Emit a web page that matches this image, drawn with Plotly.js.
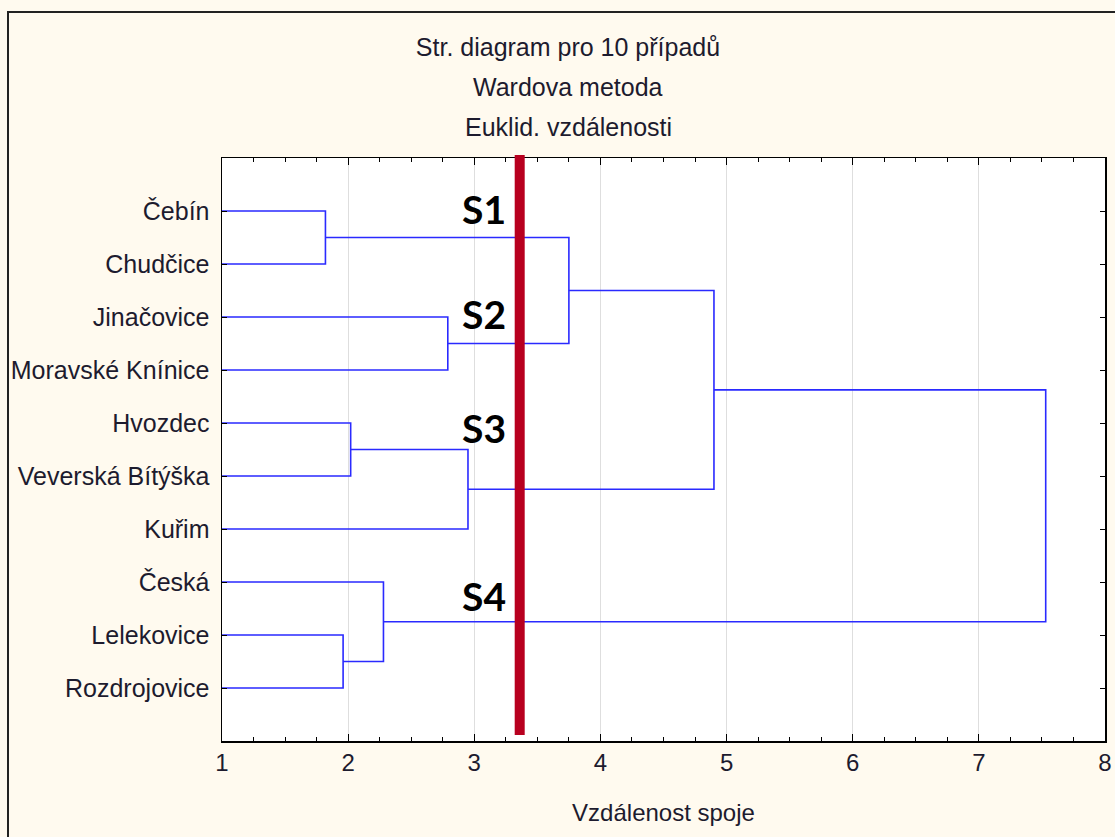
<!DOCTYPE html>
<html>
<head>
<meta charset="utf-8">
<script src="https://cdn.plot.ly/plotly-3.0.1.min.js"></script>
<style>
  html, body { margin: 0; padding: 0; background: #FFFAEF; }
  #chart { width: 1115px; height: 837px; }
</style>
</head>
<body>
<div id="chart"></div>
<script>
// ---- Data ----
const leaves = ["Čebín", "Chudčice", "Jinačovice", "Moravské Knínice", "Hvozdec",
                "Veverská Bítýška", "Kuřim", "Česká", "Lelekovice", "Rozdrojovice"];
// Linkage: each merge joins two clusters (leaf indices 0-9, merged clusters 10+)
const mergeLeft   = [0, 2, 4, 8, 7, 12, 10, 16, 17];
const mergeRight  = [1, 3, 5, 9, 13, 6, 11, 15, 14];
const mergeHeight = [1.82, 2.79, 2.02, 1.96, 2.28, 2.95, 3.75, 4.90, 7.53];
const cutDistance = 3.36;
const clusterLabels = ["S1", "S2", "S3", "S4"];
const clusterLabelY = [0.96, 2.94, 5.09, 8.26];
const xTickVals = [1, 2, 3, 4, 5, 6, 7, 8];
const titleLines = ["Str. diagram pro 10 případů", "Wardova metoda", "Euklid. vzdálenosti"];
const xAxisTitle = "Vzdálenost spoje";

// ---- Build dendrogram segments ----
const minX = 1;
const nodeX = [], nodeY = [];
leaves.forEach((_, i) => { nodeX[i] = minX; nodeY[i] = i + 1; });
const segX = [], segY = [];
mergeLeft.forEach((a, k) => {
  const b = mergeRight[k], h = mergeHeight[k];
  segX.push(nodeX[a], h, h, nodeX[b], null);
  segY.push(nodeY[a], nodeY[a], nodeY[b], nodeY[b], null);
  const id = leaves.length + k;
  nodeX[id] = h;
  nodeY[id] = (nodeY[a] + nodeY[b]) / 2;
});

const font = "Liberation Sans, Arial, sans-serif";
const txtColor = "#1d1b2e";

const traces = [{
  type: "scatter", mode: "lines", x: segX, y: segY,
  line: { color: "#2a2aff", width: 1.6 }, hoverinfo: "skip", showlegend: false
}];

const plotL = 222, plotR = 10, plotT = 158, plotB = 96;
const W = 1115, H = 837;
const pw = W - plotL - plotR, ph = H - plotT - plotB;

const annotations = [];
// title lines 2 and 3
[1, 2].forEach(i => {
  annotations.push({
    text: titleLines[i], xref: "paper", yref: "paper",
    x: (568 - plotL) / pw, y: 1, xanchor: "center", yanchor: "middle",
    yshift: plotT - [47, 87, 127][i], showarrow: false,
    font: { family: font, size: 25, color: txtColor }
  });
});
clusterLabels.forEach((t, i) => {
  annotations.push({
    text: "<b>" + t + "</b>", x: 3.265, y: clusterLabelY[i], xref: "x", yref: "y",
    xanchor: "right", yanchor: "middle", showarrow: false,
    font: { family: "Lato, Open Sans, sans-serif", size: 39, color: "#000" }
  });
});

const layout = {
  width: W, height: H,
  margin: { l: plotL, r: plotR, t: plotT, b: plotB },
  paper_bgcolor: "#FFFAEF", plot_bgcolor: "#FFFFFF",
  showlegend: false,
  title: {
    text: titleLines[0], font: { family: font, size: 25, color: txtColor },
    x: 568 / W, xanchor: "center", xref: "container",
    y: 1 - 47 / H, yanchor: "middle", yref: "container"
  },
  xaxis: {
    range: [1, 8], tickvals: xTickVals, ticks: "inside", ticklen: 7, tickcolor: "#000",
    showline: true, linecolor: "#000", linewidth: 1.5, mirror: "ticks",
    showgrid: true, gridcolor: "#dedede", gridwidth: 1.2, zeroline: false,
    minor: { dtick: 0.25, ticks: "inside", ticklen: 4, tickcolor: "#000", showgrid: false },
    tickfont: { family: font, size: 24, color: txtColor },
    title: { text: xAxisTitle, font: { family: font, size: 24, color: txtColor }, standoff: 29 }
  },
  yaxis: {
    range: [11, 0], tickvals: leaves.map((_, i) => i + 1), ticktext: leaves,
    ticks: "inside", ticklen: 5, tickcolor: "#000",
    showline: true, linecolor: "#000", linewidth: 1.5, mirror: "ticks",
    showgrid: false, zeroline: false, ticklabelstandoff: 6,
    tickfont: { family: font, size: 25, color: txtColor }
  },
  shapes: [
    { type: "line", xref: "x", yref: "paper", x0: cutDistance, x1: cutDistance,
      y0: (741 - 735) / ph, y1: (741 - 155) / ph,
      line: { color: "#B8001F", width: 10 }, layer: "above" },
    { type: "rect", xref: "paper", yref: "paper",
      x0: (8 - plotL) / pw, x1: 1.2, y0: -0.5, y1: (741 - 12) / ph,
      line: { color: "#222", width: 2 }, fillcolor: "rgba(0,0,0,0)", layer: "below" }
  ],
  annotations: annotations
};

Plotly.newPlot("chart", traces, layout, { displayModeBar: false, staticPlot: true });
</script>
</body>
</html>
